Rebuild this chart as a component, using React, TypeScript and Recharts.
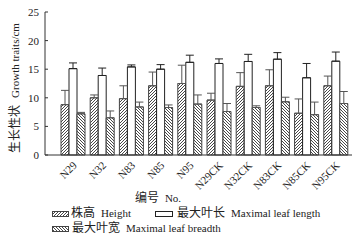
import React from "react";
import { BarChart, Bar, XAxis, YAxis, ErrorBar } from "recharts";

// 编号 No.
const categories = ["N29", "N32", "N83", "N85", "N95", "N29CK", "N32CK", "N83CK", "N85CK", "N95CK"];

// 株高 Height (cm) and its upper error
const heightMean = [8.8, 10.0, 9.85, 12.1, 12.5, 9.6, 12.0, 12.1, 7.3, 12.1];
const heightErr = [2.5, 0.5, 2.25, 2.4, 3.2, 1.2, 2.4, 2.8, 2.5, 1.7];

// 最大叶长 Maximal leaf length
const lengthMean = [15.1, 13.9, 15.4, 15.0, 16.2, 16.0, 16.35, 16.75, 13.5, 16.4];
const lengthErr = [1.0, 1.3, 0.35, 0.8, 1.25, 0.8, 1.25, 1.15, 2.5, 1.6];

// 最大叶宽 Maximal leaf breadth
const breadthMean = [7.2, 6.5, 8.4, 8.3, 8.9, 7.6, 8.3, 9.3, 7.05, 9.0];
const breadthErr = [0.25, 1.2, 0.85, 0.45, 1.6, 1.4, 0.3, 0.8, 2.2, 2.1];

const yTicks = [0, 5, 10, 15, 20, 25];

const data = categories.map((name, i) => ({
  name,
  height: heightMean[i],
  heightErr: [0, heightErr[i]],
  length: lengthMean[i],
  lengthErr: [0, lengthErr[i]],
  breadth: breadthMean[i],
  breadthErr: [0, breadthErr[i]],
}));

const FONT = "'Liberation Serif', 'Noto Sans CJK SC', serif";
const INK = "#222";

const YTick = (props: any) => {
  const { x, y, payload } = props;
  return (
    <g>
      <text x={x} y={y} dy={4} textAnchor="end" fontSize={11} fontFamily={FONT} fill={INK}>
        {payload.value}
      </text>
      <line x1={x + 6} x2={x + 9} y1={y} y2={y} stroke="#333" />
    </g>
  );
};

const XTick = (props: any) => {
  const { x, y, payload } = props;
  const tx = x + 5;
  const ty = y + 11;
  return (
    <text
      x={tx}
      y={ty}
      textAnchor="end"
      fontSize={11}
      fontFamily={FONT}
      fill={INK}
      transform={`rotate(-45 ${tx} ${ty})`}
    >
      {payload.value}
    </text>
  );
};

const Patterns = () => (
  <defs>
    <pattern id="hatchHeight" patternUnits="userSpaceOnUse" width="3" height="3">
      <rect width="3" height="3" fill="#fff" />
      <path d="M0,3 L3,0 M-1,1 L1,-1 M2,4 L4,2" stroke="#333" strokeWidth="0.9" />
    </pattern>
    <pattern id="hatchBreadth" patternUnits="userSpaceOnUse" width="3" height="3">
      <rect width="3" height="3" fill="#fff" />
      <path d="M0,0 L3,3 M-1,2 L1,4 M2,-1 L4,1" stroke="#333" strokeWidth="0.9" />
    </pattern>
  </defs>
);

export default function App() {
  return (
    <div style={{ position: "absolute", left: 0, top: 0, width: 358, height: 240, background: "#fff" }}>
      <BarChart
        width={358}
        height={240}
        data={data}
        margin={{ top: 12, right: 6, left: 0, bottom: 0 }}
        barCategoryGap={3}
        barGap={0}
      >
        <Patterns />
        <XAxis
          dataKey="name"
          height={85}
          padding={{ left: 13, right: 2 }}
          tickLine={false}
          tickSize={0}
          tickMargin={0}
          interval={0}
          stroke="#333"
          tick={<XTick />}
        />
        <YAxis
          width={45}
          domain={[0, 25]}
          ticks={yTicks}
          tickLine={false}
          tickSize={3}
          tickMargin={3}
          stroke="#333"
          tick={<YTick />}
        />
        <Bar dataKey="height" fill="url(#hatchHeight)" stroke="#444" strokeWidth={1} isAnimationActive={false}>
          <ErrorBar dataKey="heightErr" width={4} stroke="#555" strokeWidth={1} direction="y" />
        </Bar>
        <Bar dataKey="length" fill="#fff" stroke="#222" strokeWidth={1} isAnimationActive={false}>
          <ErrorBar dataKey="lengthErr" width={4} stroke="#222" strokeWidth={1} direction="y" />
        </Bar>
        <Bar dataKey="breadth" fill="url(#hatchBreadth)" stroke="#444" strokeWidth={1} isAnimationActive={false}>
          <ErrorBar dataKey="breadthErr" width={4} stroke="#555" strokeWidth={1} direction="y" />
        </Bar>
      </BarChart>
      <svg
        width={358}
        height={240}
        style={{ position: "absolute", left: 0, top: 0, pointerEvents: "none" }}
        fontFamily={FONT}
        fill={INK}
      >
        <text transform="translate(19 88) rotate(-90)" textAnchor="middle">
          <tspan fontSize={12}>生长性状</tspan>
          <tspan fontSize={11} dx={7}>Growth traits/cm</tspan>
        </text>
        <text x={158} y={202} textAnchor="middle">
          <tspan fontSize={12}>编号</tspan>
          <tspan fontSize={11} dx={6}>No.</tspan>
        </text>
        <rect x={52.5} y={211.5} width={16} height={5} fill="url(#hatchHeight)" stroke="#444" />
        <text x={71} y={217}>
          <tspan fontSize={12}>株高</tspan>
          <tspan fontSize={11} dx={6}>Height</tspan>
        </text>
        <rect x={155.5} y={211.5} width={17} height={5} fill="#fff" stroke="#222" />
        <text x={177} y={217}>
          <tspan fontSize={12}>最大叶长</tspan>
          <tspan fontSize={11} dx={6}>Maximal leaf length</tspan>
        </text>
        <rect x={52.5} y={226.5} width={16} height={5} fill="url(#hatchBreadth)" stroke="#444" />
        <text x={72} y={232}>
          <tspan fontSize={12}>最大叶宽</tspan>
          <tspan fontSize={11} dx={6}>Maximal leaf breadth</tspan>
        </text>
      </svg>
    </div>
  );
}
